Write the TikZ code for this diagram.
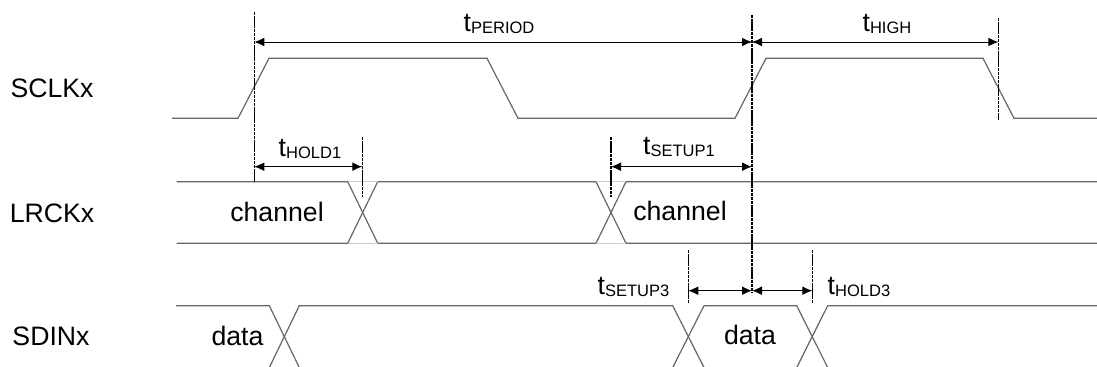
\documentclass[tikz,border=0pt]{standalone}
\usepackage{fontspec}
\setmainfont{Liberation Sans}
\usetikzlibrary{arrows.meta}
\newcommand{\tparam}[1]{t\raisebox{-1.1pt}{\fontsize{12.4}{14}\selectfont #1}}
\begin{document}
\begin{tikzpicture}[x=0.75pt,y=-0.75pt,
    wave/.style={black!60,line width=0.9pt},
    faint/.style={black!20,line width=0.6pt},
    vline/.style={black,line width=1.2pt,dash pattern=on 2.6pt off 0.5pt},
    dim/.style={{Latex[length=7.5pt,width=6.5pt]}-{Latex[length=7.5pt,width=6.5pt]},line width=0.7pt},
    lbl/.style={anchor=base,inner sep=0pt,font=\fontsize{20}{24}\selectfont}]
    \useasboundingbox (0,0) rectangle (1097,367);
    % signal names
    \node[lbl] (sclk) at (52,97.3)  {SCLKx};
    \node[lbl] (lrck) at (52,222.3) {LRCKx};
    \node[lbl] (sdin) at (51,345.7) {SDINx};
    % SCLKx
    \draw[wave] (172,118.3) -- (238,118.3) -- (269,58.3) -- (487,58.3) -- (518,118.3)
        -- (735,118.3) -- (766,58.3) -- (983,58.3) -- (1014,118.3) -- (1097,118.3);
    % LRCKx
    \draw[wave] (176.7,181.7) -- (347.7,181.7) -- (377.7,243.3) -- (596,243.3) -- (626,181.7) -- (1097,181.7);
    \draw[wave] (176.7,243.3) -- (347.7,243.3) -- (377.7,181.7) -- (596,181.7) -- (626,243.3) -- (1097,243.3);
    \draw[faint] (347.7,181.7) -- (377.7,181.7) (347.7,243.3) -- (377.7,243.3)
        (596,181.7) -- (626,181.7) (596,243.3) -- (626,243.3);
    % SDINx
    \draw[wave] (176,305.7) -- (269.3,305.7) -- (299.3,367.5);
    \draw[wave] (269.3,367.5) -- (299.3,305.7) -- (672.7,305.7) -- (704,367.5);
    \draw[wave] (672.7,367.5) -- (704,305.7) -- (796.7,305.7) -- (827.7,367.5);
    \draw[wave] (796.7,367.5) -- (827.7,305.7) -- (1097,305.7);
    % reference lines
    \coordinate (ra) at (254.3,12);  \coordinate (rab) at (254.3,181.7);
    \coordinate (rb) at (752,15);    \coordinate (rbb) at (752,293);
    \coordinate (rc) at (998.3,18);  \coordinate (rcb) at (998.3,120);
    \coordinate (rd) at (362.3,137); \coordinate (rdb) at (362.3,197);
    \coordinate (re) at (611,137);   \coordinate (reb) at (611,197);
    \coordinate (rf) at (688.3,250); \coordinate (rfb) at (688.3,303);
    \coordinate (rg) at (812.3,250); \coordinate (rgb) at (812.3,303);
    \foreach \r in {a,b,c,d,e,f,g}
        \draw[vline] (r\r) -- (r\r b);
    % timing arrows
    \coordinate (per1) at (254.3,42); \coordinate (per2) at (752,42); \coordinate (high2) at (998.3,42);
    \coordinate (hd1) at (254.3,166.7); \coordinate (hd2) at (362.3,166.7);
    \coordinate (su1) at (611,166.7);   \coordinate (su2) at (752,166.7);
    \coordinate (su3) at (688.3,290.7); \coordinate (mid3) at (752,290.7); \coordinate (hd3) at (812.3,290.7);
    \draw[dim] (per1) -- (per2);
    \draw[dim] (per2) -- (high2);
    \draw[dim] (hd1) -- (hd2);
    \draw[dim] (su1) -- (su2);
    \draw[dim] (su3) -- (mid3);
    \draw[dim] (mid3) -- (hd3);
    % parameter labels
    \node[lbl] (tper)  at (499,31.7)  {\tparam{PERIOD}};
    \node[lbl] (thigh) at (887,31.7)  {\tparam{HIGH}};
    \node[lbl] (thd1)  at (310,156.7) {\tparam{HOLD1}};
    \node[lbl] (tsu1)  at (679,155)   {\tparam{SETUP1}};
    \node[lbl] (tsu3)  at (633.5,295) {\tparam{SETUP3}};
    \node[lbl] (thd3)  at (859,295)   {\tparam{HOLD3}};
    % data labels
    \node[lbl] (ch1) at (277,221.7) {channel};
    \node[lbl] (ch2) at (680,220.5) {channel};
    \node[lbl] (d1)  at (237.5,345) {data};
    \node[lbl] (d2)  at (750,344.5) {data};
\end{tikzpicture}
\end{document}
